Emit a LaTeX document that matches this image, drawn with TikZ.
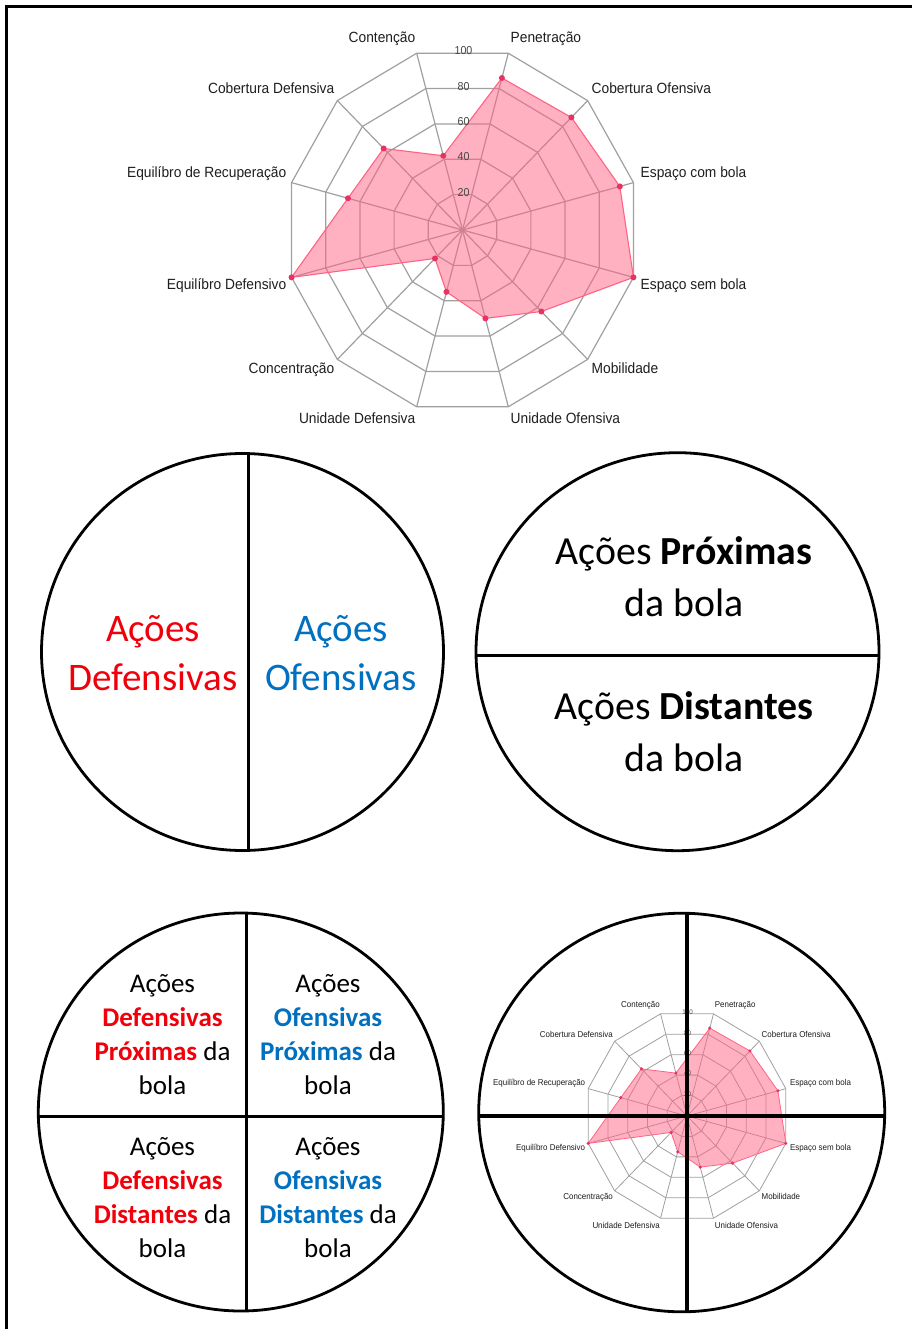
\documentclass[tikz,border=0pt]{standalone}
\usepackage{fontspec}
\setmainfont{Carlito}
\newfontfamily\chartfont{Liberation Sans}[FakeStretch=0.93]
\definecolor{actred}{RGB}{240,0,10}
\definecolor{actblue}{RGB}{0,112,192}
\definecolor{chartpink}{RGB}{255,99,132}
\definecolor{chartdot}{RGB}{232,50,100}
\definecolor{gridgray}{RGB}{160,160,160}
\definecolor{ticktext}{RGB}{70,70,70}
\definecolor{labtext}{RGB}{30,30,30}
\tikzset{
  bigtxt/.style={font=\fontsize{39}{47}\selectfont, anchor=base, inner sep=0pt},
  bigtxtb/.style={font=\fontsize{39.8}{48}\selectfont, anchor=base, inner sep=0pt},
  smalltxt/.style={font=\fontsize{27}{33}\selectfont, anchor=base, inner sep=0pt},
  ringline/.style={draw=black, line width=2.8pt},
  divider/.style={draw=black, line width=3pt},
  crossline/.style={draw=black, line width=3.8pt},
  chartlab/.style={font=\chartfont\fontsize{14.8}{17}\selectfont, text=labtext, inner sep=0pt},
  ticklab/.style={font=\chartfont\fontsize{11.5}{13}\selectfont, text=ticktext, inner sep=0pt},
}
% #1 prefix, #2 centre, #3 scale, #4 grid line width, #5 data line width
\newcommand\radarplot[5]{%
\begin{scope}[shift={#2}, scale=#3, transform shape]
  \coordinate (#1-c) at (0,0);
  \foreach \k in {1,...,5} {
    \draw[gridgray, line width=#4]
      ({35.4*\k*cos(15)},{-36.6*\k*sin(15)})
      \foreach \a in {45,75,...,345} { -- ({35.4*\k*cos(\a)},{-36.6*\k*sin(\a)}) } -- cycle;
  }
  \foreach \a in {15,45,...,345}
    \draw[gridgray, line width=#4] (#1-c) -- ({177*cos(\a)},{-183*sin(\a)});
  \filldraw[fill=chartpink, fill opacity=0.5, draw=chartpink, draw opacity=1, line width=#5]
    ({1.77*92*cos(15)},{-1.83*92*sin(15)})
    \foreach \a/\v in {45/87,75/86,105/42,135/63,165/67,195/100,225/22,255/35,285/50,315/63,345/100}
      { -- ({1.77*\v*cos(\a)},{-1.83*\v*sin(\a)}) } -- cycle;
  \foreach \a/\v in {15/92,45/87,75/86,105/42,135/63,165/67,195/100,225/22,255/35,285/50,315/63,345/100}
    \fill[chartdot] ({1.77*\v*cos(\a)},{-1.83*\v*sin(\a)}) circle [radius=3];
  \foreach \k/\t in {1/20,2/40,3/60,4/80,5/100}
    \node[ticklab] (#1-t\k) at (1,{-35.35*\k-2.5}) {\t};
  \node[chartlab, anchor=mid east] (#1-l1) at (-47,-189.5) {Contenção};
  \node[chartlab, anchor=mid west] (#1-l2) at (48,-189.5) {Penetração};
  \node[chartlab, anchor=mid west] (#1-l3) at (129,-139) {Cobertura Ofensiva};
  \node[chartlab, anchor=mid west] (#1-l4) at (178,-54.5) {Espaço com bola};
  \node[chartlab, anchor=mid west] (#1-l5) at (178,57.5) {Espaço sem bola};
  \node[chartlab, anchor=mid west] (#1-l6) at (129,141.5) {Mobilidade};
  \node[chartlab, anchor=mid west] (#1-l7) at (48,191.5) {Unidade Ofensiva};
  \node[chartlab, anchor=mid east] (#1-l8) at (-47,191.5) {Unidade Defensiva};
  \node[chartlab, anchor=mid east] (#1-l9) at (-128,141.5) {Concentração};
  \node[chartlab, anchor=mid east] (#1-l10) at (-176,57.5) {Equilíbro Defensivo};
  \node[chartlab, anchor=mid east] (#1-l11) at (-176,-54.5) {Equilíbro de Recuperação};
  \node[chartlab, anchor=mid east] (#1-l12) at (-128,-139) {Cobertura Defensiva};
\end{scope}}
\begin{document}
\begin{tikzpicture}[x=1pt, y=-1pt]
\useasboundingbox (0,0) rectangle (912,1329);
\fill[white] (0,0) rectangle (912,1329);
% frame (top and left)
\draw[black, line width=3.2pt] (912,6.5) -- (6.7,6.5) -- (6.7,1329);

% big radar chart
\radarplot{big}{(462.5,230)}{1}{1.2pt}{1.1pt}

% middle left circle
\coordinate (mlc) at (242.5,652);
\draw[ringline] (mlc) ellipse [x radius=201, y radius=198.5];
\coordinate (mlt) at (248,453.8);
\coordinate (mlb) at (248,850.4);
\draw[divider] (mlt) -- (mlb);
\node[bigtxt, text=actred] (defA) at (153,641) {Ações};
\node[bigtxt, text=actred] (defB) at (153,690) {Defensivas};
\node[bigtxt, text=actblue] (ofA) at (341,641) {Ações};
\node[bigtxt, text=actblue] (ofB) at (341,690) {Ofensivas};

% middle right circle
\coordinate (mrc) at (677.5,651.7);
\draw[ringline] (mrc) ellipse [x radius=201.5, y radius=199];
\coordinate (mrl) at (476.2,655);
\coordinate (mrr) at (878.8,655);
\draw[divider] (mrl) -- (mrr);
\node[bigtxtb] (proxA) at (684,564.5) {Ações \textbf{Próximas}};
\node[bigtxtb] (proxB) at (684,616) {da bola};
\node[bigtxtb] (distA) at (684,719.5) {Ações \textbf{Distantes}};
\node[bigtxtb] (distB) at (684,771) {da bola};

% bottom left circle
\coordinate (blc) at (240.8,1112);
\draw[ringline] (blc) ellipse [x radius=202.5, y radius=199];
\coordinate (blt) at (246.7,913.1);
\coordinate (blb) at (246.7,1310.9);
\coordinate (bll) at (38.5,1116);
\coordinate (blr) at (443.1,1116);
\draw[divider] (blt) -- (blb);
\draw[divider] (bll) -- (blr);
\node[smalltxt] (q1a) at (162.5,992) {Ações};
\node[smalltxt] (q1b) at (162.5,1026) {\textbf{\color{actred}Defensivas}};
\node[smalltxt] (q1c) at (162.5,1060) {\textbf{\color{actred}Próximas} da};
\node[smalltxt] (q1d) at (162.5,1094) {bola};
\node[smalltxt] (q2a) at (328,992) {Ações};
\node[smalltxt] (q2b) at (328,1026) {\textbf{\color{actblue}Ofensivas}};
\node[smalltxt] (q2c) at (328,1060) {\textbf{\color{actblue}Próximas} da};
\node[smalltxt] (q2d) at (328,1094) {bola};
\node[smalltxt] (q3a) at (162.5,1155) {Ações};
\node[smalltxt] (q3b) at (162.5,1189) {\textbf{\color{actred}Defensivas}};
\node[smalltxt] (q3c) at (162.5,1223) {\textbf{\color{actred}Distantes} da};
\node[smalltxt] (q3d) at (162.5,1257) {bola};
\node[smalltxt] (q4a) at (328,1155) {Ações};
\node[smalltxt] (q4b) at (328,1189) {\textbf{\color{actblue}Ofensivas}};
\node[smalltxt] (q4c) at (328,1223) {\textbf{\color{actblue}Distantes} da};
\node[smalltxt] (q4d) at (328,1257) {bola};

% bottom right circle with small radar
\coordinate (brc) at (681.7,1112.5);
\radarplot{small}{(687,1116)}{0.578}{0.8pt}{0.8pt}
\draw[ringline] (brc) ellipse [x radius=203, y radius=199.3];
\coordinate (brt) at (687,913.3);
\coordinate (brb) at (687,1311.7);
\coordinate (brl) at (478.7,1116);
\coordinate (brr) at (884.7,1116);
\draw[crossline] (brt) -- (brb);
\draw[crossline] (brl) -- (brr);
\end{tikzpicture}
\end{document}
